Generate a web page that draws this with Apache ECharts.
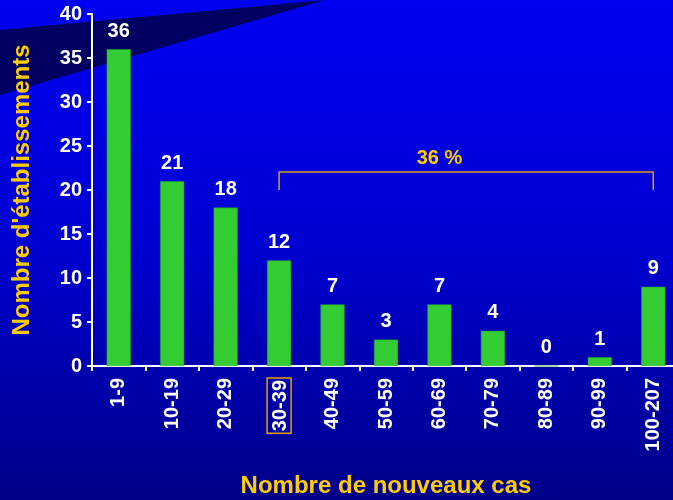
<!DOCTYPE html>
<html>
<head>
<meta charset="utf-8">
<script src="https://cdn.jsdelivr.net/npm/echarts@6/dist/echarts.min.js"></script>
<style>
  html, body { margin: 0; padding: 0; }
  #chart { width: 673px; height: 500px; }
</style>
</head>
<body>
<div id="chart"></div>
<script>
const categories = ['1-9', '10-19', '20-29', '30-39', '40-49', '50-59', '60-69', '70-79', '80-89', '90-99', '100-207'];
const counts = [36, 21, 18, 12, 7, 3, 7, 4, 0, 1, 9];
const yTicks = [0, 5, 10, 15, 20, 25, 30, 35, 40];
// bracket over 30-39 .. 100-207
const bracket = [[3, 20], [3, 22.05], [10, 22.05], [10, 20]];
const bracketLabel = '36 %';

const chart = echarts.init(document.getElementById('chart'));

const font = 'Liberation Sans';

chart.setOption({
  backgroundColor: {
    type: 'linear', x: 0, y: 0, x2: 0, y2: 1,
    colorStops: [
      { offset: 0, color: '#0000f2' },
      { offset: 0.5, color: '#0000d0' },
      { offset: 1, color: '#000088' }
    ]
  },
  graphic: [
    {
      type: 'polygon',
      z: -1,
      shape: { points: [[0, 30], [325, 0], [0, 95]] },
      style: { fill: '#000060' }
    }
  ],
  grid: { left: 92, width: 588, top: 14, bottom: 134, outerBoundsMode: 'none' },
  xAxis: {
    type: 'category',
    data: categories,
    name: 'Nombre de nouveaux cas',
    nameLocation: 'middle',
    nameGap: 108,
    nameTextStyle: { color: '#ffcc00', fontSize: 24, fontWeight: 'bold', fontFamily: font },
    axisLine: { lineStyle: { color: '#ffffff', width: 2 } },
    axisTick: { show: true, length: 5, lineStyle: { color: '#ffffff', width: 2 } },
    axisLabel: {
      rotate: 90,
      margin: 12,
      color: '#ffffff',
      fontSize: 20,
      fontWeight: 'bold',
      fontFamily: font,
      formatter: (v, i) => i === 3 ? '{hl|' + v + '}' : v,
      rich: {
        hl: {
          color: '#ffffff',
          fontSize: 20,
          fontWeight: 'bold',
          fontFamily: font,
          borderColor: '#e0a000',
          borderWidth: 1.5,
          padding: [3, 2, 1, 2]
        }
      }
    }
  },
  yAxis: {
    type: 'value',
    min: yTicks[0],
    max: yTicks[yTicks.length - 1],
    interval: 5,
    name: "Nombre d'établissements",
    nameLocation: 'middle',
    nameGap: 58,
    nameTextStyle: { color: '#ffcc00', fontSize: 24, fontWeight: 'bold', fontFamily: font },
    splitLine: { show: false },
    axisLine: { show: true, lineStyle: { color: '#ffffff', width: 2 } },
    axisTick: { show: true, length: 5, lineStyle: { color: '#ffffff', width: 2 } },
    axisLabel: { color: '#ffffff', fontSize: 20, fontWeight: 'bold', fontFamily: font, margin: 10 }
  },
  series: [
    {
      type: 'bar',
      data: counts,
      barWidth: '45%',
      itemStyle: { color: '#33cc33', borderColor: '#22aa22', borderWidth: 0.5 },
      label: {
        show: true,
        position: 'top',
        distance: 8,
        color: '#ffffff',
        fontSize: 20,
        fontWeight: 'bold',
        fontFamily: font
      }
    },
    {
      type: 'line',
      data: bracket,
      symbol: 'none',
      lineStyle: { color: '#d4a020', width: 1.5 },
      silent: true,
      markPoint: {
        symbol: 'circle',
        symbolSize: 0,
        data: [{ coord: [6, 23.6], value: bracketLabel }],
        label: {
          show: true,
          formatter: bracketLabel,
          color: '#ffcc00',
          fontSize: 20,
          fontWeight: 'bold',
          fontFamily: font
        }
      }
    }
  ]
});
</script>
</body>
</html>
